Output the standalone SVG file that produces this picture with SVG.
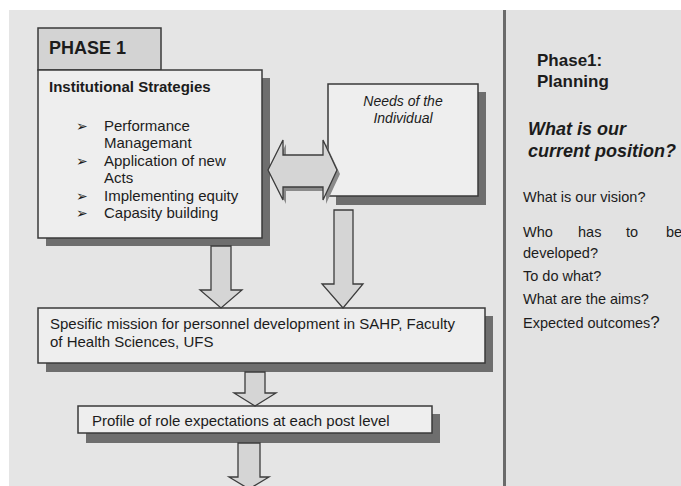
<svg xmlns="http://www.w3.org/2000/svg" width="681" height="486" viewBox="0 0 681 486">
<style>
text{font-family:"Liberation Sans",Arial,sans-serif;fill:#1c1c1c}
.box{fill:#eeeeee;stroke:#3a3a3a;stroke-width:1.5}
.shadow{fill:#6e6e6e}
.tab{fill:#d3d3d3;stroke:#3a3a3a;stroke-width:1.5}
.arrow{fill:#d5d5d5;stroke:#3c3c3c;stroke-width:1.3;stroke-linejoin:miter}
.ashadow{fill:#8a8a8a}
.b15{font-size:15px}
.bold{font-weight:bold}
.bul{font-family:"DejaVu Sans",sans-serif;font-size:14px;font-weight:bold}
</style>
<g id="background">
<rect x="0" y="0" width="681" height="486" fill="#ffffff"/>
<rect x="9" y="10" width="672" height="476" fill="#e5e5e5"/>
<rect x="506" y="10" width="175" height="476" fill="#e2e2e2"/>
<rect x="503" y="10" width="3" height="476" fill="#6a6a6a"/>
</g>
<g id="node-phase1-tab">
<rect class="tab" x="38" y="28" width="123" height="42"/>
<text x="49" y="54" class="bold" font-size="18">PHASE 1</text>
</g>
<g id="node-institutional">
<rect class="shadow" x="46" y="78" width="224" height="168"/>
<rect class="box" x="38" y="70" width="224" height="168"/>
<text x="49" y="92" class="bold b15">Institutional Strategies</text>
<g class="b15">
<text x="76" y="131" class="bul">➢</text>
<text x="104" y="131">Performance</text>
<text x="104" y="148">Managemant</text>
<text x="76" y="166" class="bul">➢</text>
<text x="104" y="166">Application of new</text>
<text x="104" y="183">Acts</text>
<text x="76" y="201" class="bul">➢</text>
<text x="104" y="201">Implementing equity</text>
<text x="76" y="218" class="bul">➢</text>
<text x="104" y="218">Capasity building</text>
</g>
</g>
<g id="node-needs">
<rect class="shadow" x="336" y="92" width="150" height="113"/>
<rect class="box" x="328" y="84" width="150" height="112"/>
<text x="403" y="106" font-size="14" font-style="italic" text-anchor="middle">Needs of the</text>
<text x="403" y="123" font-size="14" font-style="italic" text-anchor="middle">Individual</text>
</g>
<g id="node-mission">
<rect class="shadow" x="46" y="316" width="447" height="56"/>
<rect class="box" x="38" y="308" width="447" height="55"/>
<text x="50" y="329" class="b15">Spesific mission for personnel development in SAHP, Faculty</text>
<text x="50" y="347" class="b15">of Health Sciences, UFS</text>
</g>
<g id="node-profile">
<rect class="shadow" x="86" y="414" width="354" height="29"/>
<rect class="box" x="78" y="406" width="354" height="27"/>
<text x="92" y="426" class="b15">Profile of role expectations at each post level</text>
</g>
<g id="connectors">
<polygon class="ashadow" points="271,174 286,144 286,159 326,159 326,144 340,174 326,204 326,191 286,191 286,204"/>
<polygon class="arrow" points="268,170 283,140 283,155 323,155 323,140 337,170 323,200 323,187 283,187 283,200"/>
<polygon class="arrow" points="211,246 231,246 231,290 242,290 221,308 200,290 211,290"/>
<polygon class="arrow" points="334,210 353,210 353,284 363,284 343,308 322,284 334,284"/>
<polygon class="arrow" points="245,372 265,372 265,393 276,393 255,406 234,393 245,393"/>
<polygon class="arrow" points="238,443 260,443 260,477 269,477 249,489 229,477 238,477"/>
</g>
<g id="node-right-panel">
<text x="537" y="66" class="bold" font-size="17">Phase1:</text>
<text x="537" y="87" class="bold" font-size="17">Planning</text>
<text x="528" y="135" class="bold" font-size="18" font-style="italic">What is our</text>
<text x="528" y="157" class="bold" font-size="18" font-style="italic">current position?</text>
<text x="523" y="202" font-size="14.5">What is our vision?</text>
<text y="237" font-size="14.5"><tspan x="523">Who</tspan><tspan x="578">has</tspan><tspan x="626">to</tspan><tspan x="666">be</tspan></text>
<text x="523" y="258" font-size="14.5">developed?</text>
<text x="523" y="281" font-size="14.5">To do what?</text>
<text x="523" y="304" font-size="14.5">What are the aims?</text>
<text x="523" y="328" font-size="14.5">Expected outcomes<tspan font-size="17">?</tspan></text>
</g>
</svg>
